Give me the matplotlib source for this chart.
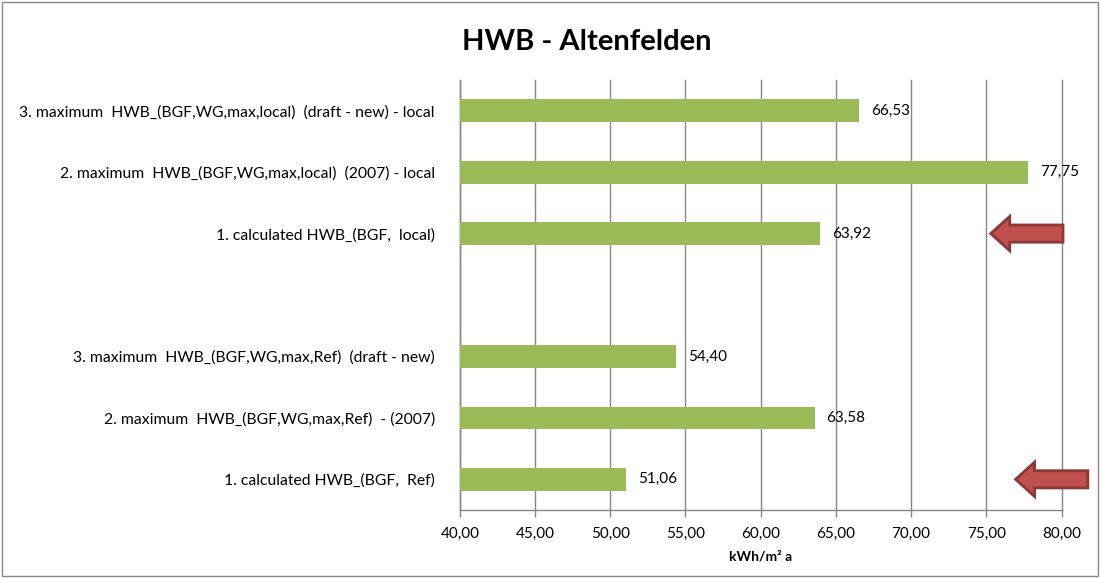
import matplotlib.pyplot as plt
from matplotlib.patches import FancyArrow, Rectangle
from matplotlib.ticker import FuncFormatter
import numpy as np

plt.rcParams['font.family'] = ['Lato', 'DejaVu Sans']

# bottom to top, empty slot in the middle
labels = [
    "1. calculated HWB_(BGF,  Ref)",
    "2. maximum  HWB_(BGF,WG,max,Ref)  - (2007)",
    "3. maximum  HWB_(BGF,WG,max,Ref)  (draft - new)",
    "",
    "1. calculated HWB_(BGF,  local)",
    "2. maximum  HWB_(BGF,WG,max,local)  (2007) - local",
    "3. maximum  HWB_(BGF,WG,max,local)  (draft - new) - local",
]
values = [51.06, 63.58, 54.40, np.nan, 63.92, 77.75, 66.53]
xticks = [40, 45, 50, 55, 60, 65, 70, 75, 80]
arrow_rows = [0, 4]

fig = plt.figure(figsize=(11, 5.78), dpi=100)
ax = fig.add_axes([0.418, 0.1176, 0.547, 0.744])

y = np.arange(len(values))
vals = np.array(values)
mask = ~np.isnan(vals)
ax.barh(y[mask], vals[mask] - 40, left=40, height=0.37, color='#9BBB59', zorder=3)

for yi, v in zip(y[mask], vals[mask]):
    ax.text(v + 0.8, yi, f"{v:.2f}".replace('.', ','), va='center', ha='left',
            fontsize=11, color='#000000')

ax.set_xlim(40, 80)
ax.set_ylim(-0.5, len(values) - 0.5)
ax.set_xticks(xticks)
ax.xaxis.set_major_formatter(FuncFormatter(lambda v, p: f"{v:.2f}".replace('.', ',')))
ax.set_yticks(y)
ax.set_yticklabels(labels)
ax.tick_params(axis='y', length=0, pad=18, labelsize=11.3)
ax.tick_params(axis='x', length=5, width=1, color='#868686', labelsize=11, pad=7)
ax.grid(axis='x', color='#868686', linewidth=1, zorder=0)
for gl in ax.get_xgridlines():
    gl.set_clip_on(False)

for s in ['top', 'right']:
    ax.spines[s].set_visible(False)
for s in ['left', 'bottom']:
    ax.spines[s].set_color('#868686')
    ax.spines[s].set_linewidth(1)

ax.set_xlabel("kWh/m² a", fontsize=10, fontweight='bold', labelpad=7)
fig.text(0.533, 0.927, "HWB - Altenfelden", ha='center', va='center',
         fontsize=21, fontweight='bold')

# red arrows pointing left at the calculated values
arrow_x = [81.75, 80.1]
for row, x0 in zip(arrow_rows, arrow_x):
    arr = FancyArrow(x0, row, -4.8, 0, width=0.28, head_width=0.56,
                     head_length=1.26, length_includes_head=True,
                     facecolor='#C0504D', edgecolor='#8C3836', linewidth=2,
                     clip_on=False, zorder=5)
    ax.add_patch(arr)

fig.patches.append(Rectangle((0.002, 0.003), 0.996, 0.994, transform=fig.transFigure,
                             fill=False, edgecolor='#888888', linewidth=1))

fig.savefig('out.png', dpi=100)
